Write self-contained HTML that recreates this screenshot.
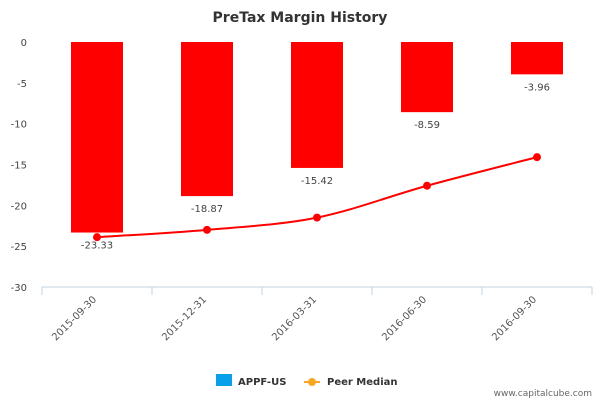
<!DOCTYPE html>
<html><head><meta charset="utf-8"><style>
body{margin:0;background:#fff;font-family:"Liberation Sans","DejaVu Sans",sans-serif}
</style></head><body>
<svg width="600" height="400" xmlns="http://www.w3.org/2000/svg" font-family="DejaVu Sans, Liberation Sans, sans-serif">
<text x="300" y="22" text-anchor="middle" font-size="14" font-weight="bold" fill="#333">PreTax Margin History</text>
<g id="yaxis"></g>
<g id="xaxis"></g>
<g id="bars"></g>
<g id="line"></g>
<g>
<g><rect x="216" y="374" width="16" height="12" fill="#0aa0e8"/><text x="238" y="385" font-size="10" font-weight="bold" fill="#333">APPF-US</text></g>
<g><line x1="304" y1="382" x2="320" y2="382" stroke="#f5a623" stroke-width="2"/><circle cx="312" cy="382" r="4" fill="#f5a623"/><text x="327" y="385" font-size="10" font-weight="bold" fill="#333">Peer Median</text></g>
</g>
<text x="592" y="396" text-anchor="end" font-size="9" fill="#666">www.capitalcube.com</text>
</svg>
<script>
const categories=["2015-09-30","2015-12-31","2016-03-31","2016-06-30","2016-09-30"];
const barValues=[-23.33,-18.87,-15.42,-8.59,-3.96];
const peerValues=[-23.9,-23.0,-21.5,-17.6,-14.1];
const yTicks=[0,-5,-10,-15,-20,-25,-30];
const NS="http://www.w3.org/2000/svg";
const L=42,R=592,T=42,B=287,yMin=-30,yMax=0;
const bw=(R-L)/categories.length;
const y=v=>T+(yMax-v)/(yMax-yMin)*(B-T);
const x=i=>L+bw*(i+0.5);
function mk(t,a,p){const e=document.createElementNS(NS,t);for(const k in a)e.setAttribute(k,a[k]);p.appendChild(e);return e;}
const ya=document.getElementById('yaxis'),xa=document.getElementById('xaxis'),bg=document.getElementById('bars'),lg=document.getElementById('line');
yTicks.forEach(v=>{const t=mk('text',{x:27,y:y(v)+4,'text-anchor':'end','font-size':10,fill:'#444'},ya);t.textContent=v;

});
mk('line',{x1:L,y1:B,x2:R,y2:B,stroke:'#c0d0e0'},xa);
for(let i=0;i<=categories.length;i++)mk('line',{x1:L+bw*i,y1:B,x2:L+bw*i,y2:B+8,stroke:'#c0d0e0'},xa);
categories.forEach((c,i)=>{const t=mk('text',{x:x(i),y:300,'text-anchor':'end','font-size':10,fill:'#555',transform:`rotate(-45 ${x(i)} 300)`},xa);t.textContent=c;

});
barValues.forEach((v,i)=>{const r=mk('rect',{x:x(i)-26,y:y(0),width:52,height:y(v)-y(0),fill:'#ff0000'},bg);


const t=mk('text',{x:x(i),y:y(v)+16,'text-anchor':'middle','font-size':10,fill:'#444'},bg);t.textContent=v.toFixed(2);

});
const pts=peerValues.map((v,i)=>[x(i),y(v)]);
let d=`M${pts[0][0]},${pts[0][1]}`;
for(let i=0;i<pts.length-1;i++){const p0=pts[Math.max(0,i-1)],p1=pts[i],p2=pts[i+1],p3=pts[Math.min(pts.length-1,i+2)];
d+=` C${p1[0]+(p2[0]-p0[0])/6},${p1[1]+(p2[1]-p0[1])/6} ${p2[0]-(p3[0]-p1[0])/6},${p2[1]-(p3[1]-p1[1])/6} ${p2[0]},${p2[1]}`;}
const pl=mk('path',{d:d,fill:'none',stroke:'#ff0000','stroke-width':2},lg);


pts.forEach(p=>{const c=mk('circle',{cx:p[0],cy:p[1],r:4,fill:'#ff0000'},lg);

});
</script>
</body></html>
